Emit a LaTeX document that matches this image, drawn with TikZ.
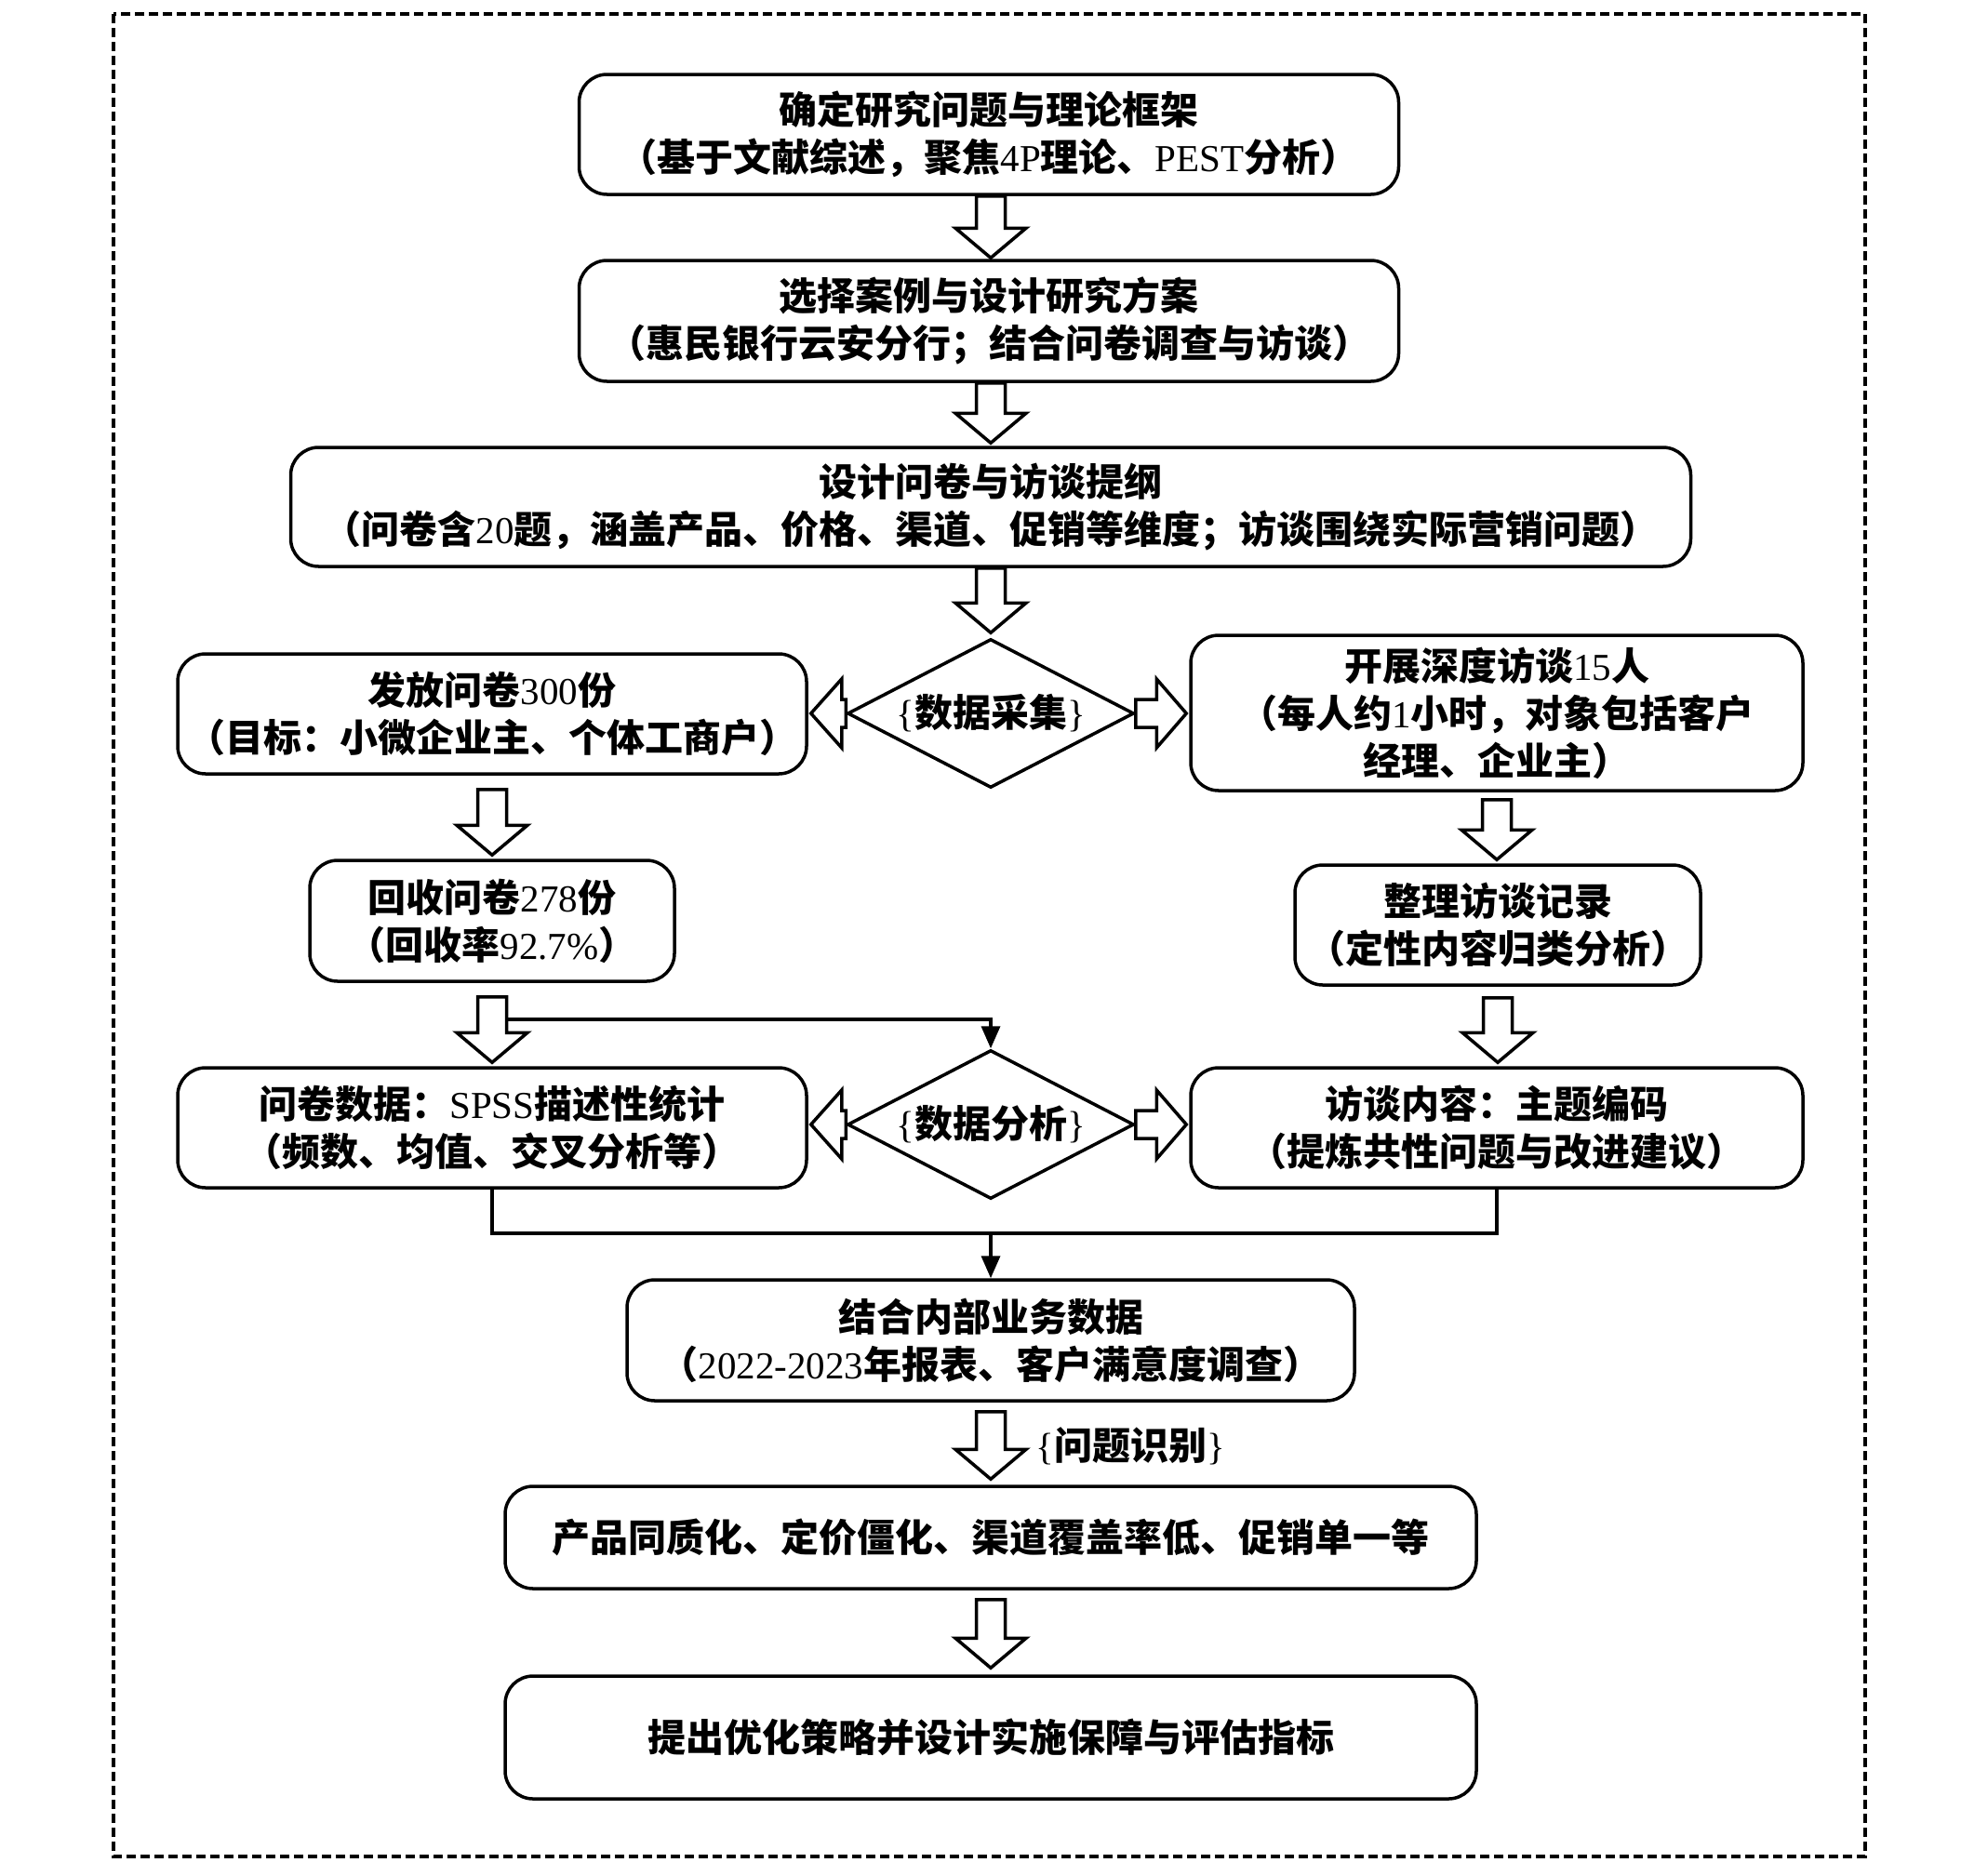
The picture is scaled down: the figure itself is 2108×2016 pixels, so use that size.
\documentclass[tikz,border=0pt]{standalone}
\usepackage{fontspec}
\setmainfont{Liberation Serif}
\newfontfamily\cjk{Noto Sans CJK SC}
\usetikzlibrary{shapes.geometric,arrows.meta,calc}
\newcommand\lat[1]{{\rmfamily\mdseries #1}}
\tikzset{
  box/.style={draw, line width=3.5pt, rounded corners=30pt, align=center, inner sep=0pt,
    font=\cjk\bfseries\fontsize{41}{51}\selectfont},
  dia/.style={draw, diamond, line width=3.5pt, inner sep=0pt, aspect=1.925,
    minimum width=308pt, minimum height=160pt,
    font=\cjk\bfseries\fontsize{41}{51}\selectfont},
  lbl/.style={inner sep=0pt, font=\cjk\bfseries\fontsize{41}{51}\selectfont},
  fatdown/.style={draw, fill=white, line width=3.5pt,
    to path={let \p1=(\tikztostart), \p2=(\tikztotarget) in
      (\x1-15.5pt,\y1) -- (\x1+15.5pt,\y1) -- (\x1+15.5pt,\y2+32pt) -- (\x1+38pt,\y2+32pt)
      -- (\x1,\y2) -- (\x1-38pt,\y2+32pt) -- (\x1-15.5pt,\y2+32pt) -- cycle}},
  fatleft/.style={draw, fill=white, line width=3.5pt,
    to path={let \p1=(\tikztostart), \p2=(\tikztotarget) in
      (\x1,\y1-15pt) -- (\x1,\y1+15pt) -- (\x2+33pt,\y1+15pt) -- (\x2+33pt,\y1+37pt)
      -- (\x2,\y1) -- (\x2+33pt,\y1-37pt) -- (\x2+33pt,\y1-15pt) -- cycle}},
  fatright/.style={draw, fill=white, line width=3.5pt,
    to path={let \p1=(\tikztostart), \p2=(\tikztotarget) in
      (\x1,\y1-15pt) -- (\x1,\y1+15pt) -- (\x2-32pt,\y1+15pt) -- (\x2-32pt,\y1+37pt)
      -- (\x2,\y1) -- (\x2-32pt,\y1-37pt) -- (\x2-32pt,\y1-15pt) -- cycle}},
  conn/.style={line width=3.5pt, -{Triangle[length=24pt,width=20pt]}},
  plain/.style={line width=3.5pt},
  frame/.style={line width=3.5pt, dash pattern=on 10pt off 5pt}
}
\begin{document}
\begin{tikzpicture}[x=1pt,y=-1pt]
\fill[white] (0,0) rectangle (2108,2016);
\useasboundingbox (0,0) rectangle (2108,2016);
\draw[frame] (122,15) rectangle (2005,1996);

\node[box, minimum width=881pt, minimum height=129pt] (b1) at (1063,144.5)
  {确定研究问题与理论框架\\（基于文献综述，聚焦\lat{4P}理论、\lat{PEST}分析）};
\node[box, minimum width=881pt, minimum height=130pt] (b2) at (1063,345)
  {选择案例与设计研究方案\\（惠民银行云安分行；结合问卷调查与访谈）};
\node[box, minimum width=1505pt, minimum height=128pt] (b3) at (1065,545)
  {设计问卷与访谈提纲\\（问卷含\lat{20}题，涵盖产品、价格、渠道、促销等维度；访谈围绕实际营销问题）};
\node[dia] (d1) at (1065,767) {\lat{\{}数据采集\lat{\}}};
\node[box, minimum width=676pt, minimum height=129pt] (bL1) at (529,767.5)
  {发放问卷\lat{300}份\\（目标：小微企业主、个体工商户）};
\node[box, minimum width=658pt, minimum height=167pt] (bR1) at (1609,766.5)
  {开展深度访谈\lat{15}人\\（每人约\lat{1}小时，对象包括客户\\经理、企业主）};
\node[box, minimum width=392pt, minimum height=130pt] (bL2) at (529,990)
  {回收问卷\lat{278}份\\（回收率\lat{92.7\%}）};
\node[box, minimum width=436pt, minimum height=129pt] (bR2) at (1610,994.5)
  {整理访谈记录\\（定性内容归类分析）};
\node[box, minimum width=676pt, minimum height=129pt] (bL3) at (529,1212.5)
  {问卷数据：\lat{SPSS}描述性统计\\（频数、均值、交叉分析等）};
\node[dia] (d2) at (1065,1209) {\lat{\{}数据分析\lat{\}}};
\node[box, minimum width=658pt, minimum height=129pt] (bR3) at (1609,1212.5)
  {访谈内容：主题编码\\（提炼共性问题与改进建议）};
\node[box, minimum width=782pt, minimum height=130pt] (bC) at (1065,1441)
  {结合内部业务数据\\（\lat{2022-2023}年报表、客户满意度调查）};
\node[box, minimum width=1044pt, minimum height=110pt] (bP) at (1065,1653)
  {产品同质化、定价僵化、渠道覆盖率低、促销单一等};
\node[box, minimum width=1044pt, minimum height=132pt] (bF) at (1065,1868)
  {提出优化策略并设计实施保障与评估指标};
\node[lbl] (l1) at (1215,1555) {\lat{\{}问题识别\lat{\}}};

% fat arrows
\draw[fatdown] ([xshift=2pt]b1.south) to ([xshift=2pt,yshift=1pt]b2.north);
\draw[fatdown] ([xshift=2pt]b2.south) to ([xshift=2pt,yshift=3pt]b3.north);
\draw[fatdown] (b3.south) to ([yshift=5pt]d1.north);
\draw[fatdown] ([yshift=-15pt]bL1.south) to ([yshift=4pt]bL2.north);
\draw[fatdown] ([yshift=-8pt]bR1.south) to ([yshift=4pt]bR2.north);
\draw[fatdown] ([yshift=-15pt]bL2.south) to ([yshift=4pt]bL3.north);
\draw[fatdown] ([yshift=-12pt]bR2.south) to ([yshift=4pt]bR3.north);
\draw[fatdown] ([yshift=-10pt]bC.south) to ([yshift=6pt]bP.north);
\draw[fatdown] ([yshift=-10pt]bP.south) to ([yshift=7pt]bF.north);
\draw[fatleft] (d1.west) to ([xshift=3pt]bL1.east);
\draw[fatright] (d1.east) to ([xshift=-3pt]bR1.west);
\draw[fatleft] (d2.west) to ([xshift=3pt]bL3.east);
\draw[fatright] (d2.east) to ([xshift=-3pt]bR3.west);

% thin connectors
\coordinate (t0) at (545,1096);
\draw[conn] (t0) -| (d2.north);
\coordinate (j) at (1065,1326);
\draw[plain] (bL3.south) |- (j) -| (bR3.south);
\draw[conn] (j) -- (bC.north);
\end{tikzpicture}
\end{document}
